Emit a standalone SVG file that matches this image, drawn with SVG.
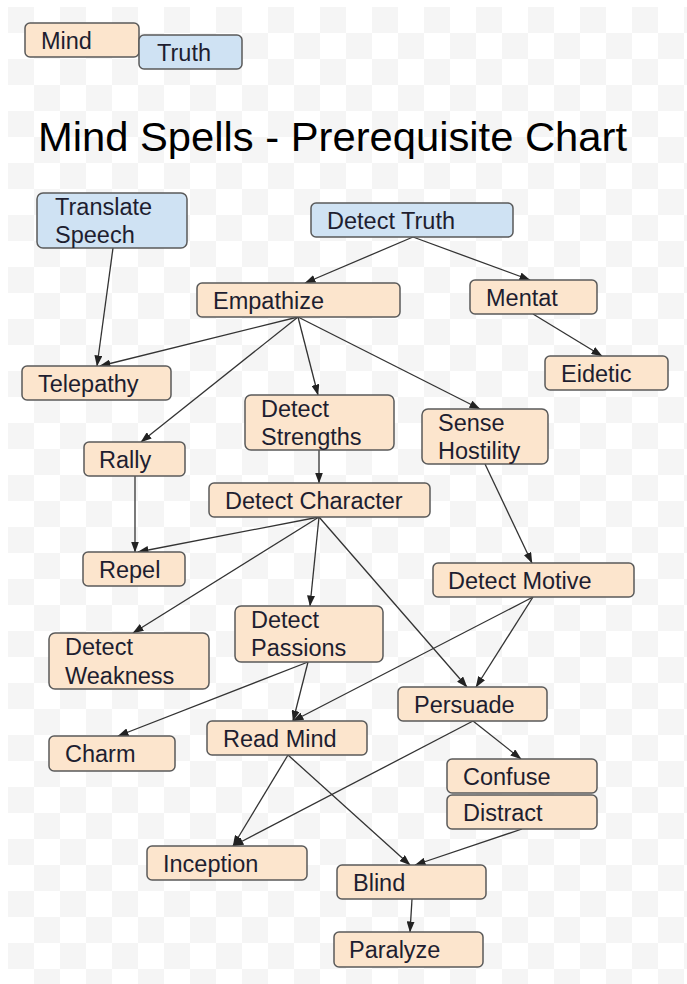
<svg xmlns="http://www.w3.org/2000/svg" width="687" height="984" viewBox="0 0 687 984">
<defs>
<pattern id="chk" x="8" y="7" width="52" height="52" patternUnits="userSpaceOnUse">
<rect width="52" height="52" fill="#ffffff"/>
<rect width="26" height="26" fill="#f5f5f5"/>
<rect x="26" y="26" width="26" height="26" fill="#f5f5f5"/>
</pattern>
<marker id="ah" markerUnits="userSpaceOnUse" markerWidth="11" markerHeight="8" refX="10.5" refY="4" orient="auto">
<path d="M0,0 L11,4 L0,8 z" fill="#222"/>
</marker>
<style>
.n rect{fill:#fce5cd;stroke:#5a5a5a;stroke-width:1.5}
.b rect{fill:#cfe2f3;stroke:#5a5a5a;stroke-width:1.5}
text{font-family:"Liberation Sans",Arial,sans-serif;font-size:23.5px;fill:#1e1e30}
.title{font-size:41px;fill:#000}
#edges line{stroke:#333;stroke-width:1.3;marker-end:url(#ah)}
</style>
</defs>
<rect width="687" height="984" fill="#ffffff"/>
<rect x="8" y="7" width="679" height="977" fill="url(#chk)"/>

<g id="legend-mind" class="n"><rect x="25" y="23" width="114" height="34" rx="5"/><text x="41" y="49">Mind</text></g>
<g id="legend-truth" class="b"><rect x="139" y="35" width="103" height="34" rx="5"/><text x="157" y="61">Truth</text></g>

<text class="title" x="38" y="151" textLength="589" lengthAdjust="spacingAndGlyphs">Mind Spells - Prerequisite Chart</text>

<g id="edges">
<line x1="113" y1="248" x2="97" y2="366"/>
<line x1="413" y1="237" x2="305" y2="283"/>
<line x1="413" y1="237" x2="530" y2="280"/>
<line x1="533" y1="314" x2="602" y2="356"/>
<line x1="298" y1="317" x2="100" y2="366"/>
<line x1="298" y1="317" x2="141" y2="442"/>
<line x1="298" y1="317" x2="318" y2="395"/>
<line x1="298" y1="317" x2="480" y2="409"/>
<line x1="319" y1="450" x2="319" y2="483"/>
<line x1="135" y1="476" x2="135" y2="552"/>
<line x1="319" y1="517" x2="138" y2="552"/>
<line x1="319" y1="517" x2="133" y2="633"/>
<line x1="319" y1="517" x2="310" y2="606"/>
<line x1="319" y1="517" x2="467" y2="687"/>
<line x1="485" y1="464" x2="532" y2="563"/>
<line x1="533" y1="597" x2="476" y2="687"/>
<line x1="533" y1="597" x2="293" y2="721"/>
<line x1="308" y1="662" x2="293" y2="721"/>
<line x1="308" y1="662" x2="118" y2="736"/>
<line x1="473" y1="721" x2="521" y2="759"/>
<line x1="473" y1="721" x2="233" y2="846"/>
<line x1="288" y1="755" x2="233" y2="846"/>
<line x1="288" y1="755" x2="410" y2="865"/>
<line x1="522" y1="829" x2="415" y2="865"/>
<line x1="412" y1="899" x2="410" y2="932"/>
</g>

<g id="translate-speech" class="b"><rect x="37" y="193" width="150" height="55" rx="6"/><text x="55" y="215">Translate</text><text x="55" y="243">Speech</text></g>
<g id="detect-truth" class="b"><rect x="311" y="203" width="202" height="34" rx="5"/><text x="327" y="229">Detect Truth</text></g>
<g id="empathize" class="n"><rect x="197" y="283" width="203" height="34" rx="5"/><text x="213" y="309">Empathize</text></g>
<g id="mentat" class="n"><rect x="470" y="280" width="127" height="34" rx="5"/><text x="486" y="306">Mentat</text></g>
<g id="telepathy" class="n"><rect x="22" y="366" width="149" height="34" rx="5"/><text x="38" y="392">Telepathy</text></g>
<g id="eidetic" class="n"><rect x="545" y="356" width="123" height="34" rx="5"/><text x="561" y="382">Eidetic</text></g>
<g id="detect-strengths" class="n"><rect x="245" y="395" width="149" height="55" rx="6"/><text x="261" y="417">Detect</text><text x="261" y="445">Strengths</text></g>
<g id="sense-hostility" class="n"><rect x="422" y="409" width="126" height="55" rx="6"/><text x="438" y="431">Sense</text><text x="438" y="459">Hostility</text></g>
<g id="rally" class="n"><rect x="84" y="442" width="101" height="34" rx="5"/><text x="99" y="468">Rally</text></g>
<g id="detect-character" class="n"><rect x="209" y="483" width="221" height="34" rx="5"/><text x="225" y="509">Detect Character</text></g>
<g id="repel" class="n"><rect x="83" y="552" width="102" height="34" rx="5"/><text x="99" y="578">Repel</text></g>
<g id="detect-motive" class="n"><rect x="433" y="563" width="201" height="34" rx="5"/><text x="448" y="589">Detect Motive</text></g>
<g id="detect-weakness" class="n"><rect x="49" y="633" width="160" height="56" rx="6"/><text x="65" y="655">Detect</text><text x="65" y="684">Weakness</text></g>
<g id="detect-passions" class="n"><rect x="235" y="606" width="148" height="56" rx="6"/><text x="251" y="628">Detect</text><text x="251" y="656">Passions</text></g>
<g id="persuade" class="n"><rect x="398" y="687" width="149" height="34" rx="5"/><text x="414" y="713">Persuade</text></g>
<g id="charm" class="n"><rect x="49" y="736" width="126" height="35" rx="5"/><text x="65" y="762">Charm</text></g>
<g id="read-mind" class="n"><rect x="207" y="721" width="160" height="34" rx="5"/><text x="223" y="747">Read Mind</text></g>
<g id="confuse" class="n"><rect x="447" y="759" width="150" height="34" rx="5"/><text x="463" y="785">Confuse</text></g>
<g id="distract" class="n"><rect x="447" y="795" width="150" height="34" rx="5"/><text x="463" y="821">Distract</text></g>
<g id="inception" class="n"><rect x="147" y="846" width="160" height="34" rx="5"/><text x="163" y="872">Inception</text></g>
<g id="blind" class="n"><rect x="337" y="865" width="149" height="34" rx="5"/><text x="353" y="891">Blind</text></g>
<g id="paralyze" class="n"><rect x="334" y="932" width="149" height="35" rx="5"/><text x="349" y="958">Paralyze</text></g>
</svg>
